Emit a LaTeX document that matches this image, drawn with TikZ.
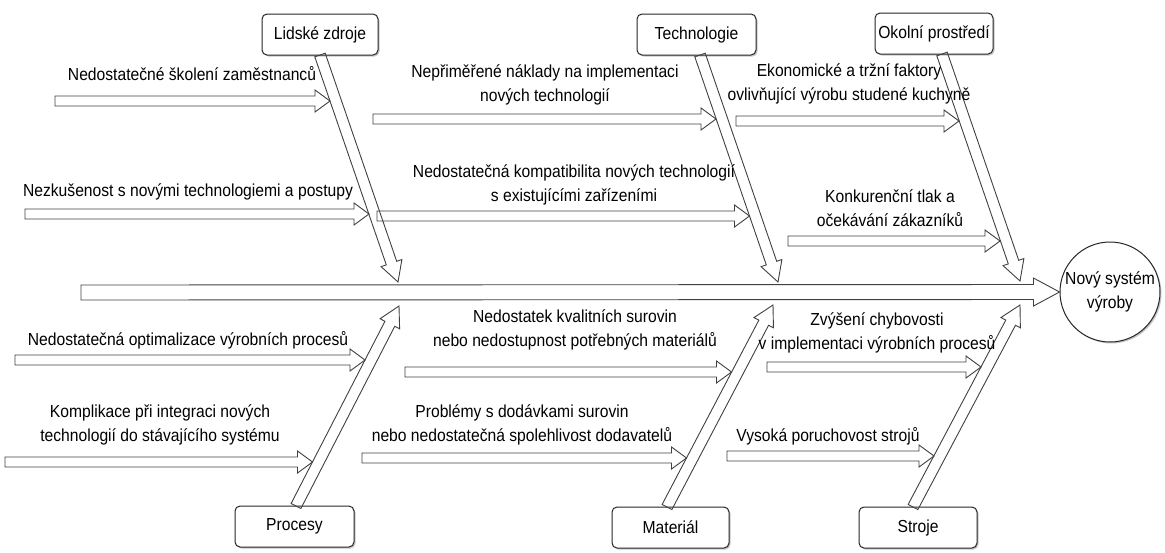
\documentclass[tikz,border=0pt]{standalone}
\usepackage{fontspec}
\setmainfont{Liberation Sans}[FakeStretch=0.9]
\usetikzlibrary{calc,shadows}

% hollow block arrow: #1 tail, #2 tip, #3 half body width, #4 half head width, #5 head length, #6 name
\newcommand\hollowarrow[6]{%
  \coordinate (#6-hb) at ($(#2)!#5!(#1)$);
  \draw[hollow]
    ($(#1)!#3!90:(#2)$) -- ($(#6-hb)!#3!90:(#2)$) -- ($(#6-hb)!#4!90:(#2)$) -- (#2)
    -- ($(#6-hb)!#4!-90:(#2)$) -- ($(#6-hb)!#3!-90:(#2)$) -- ($(#1)!#3!-90:(#2)$) -- cycle;
}
\newcommand\causearrow[3]{\hollowarrow{#1}{#2}{5pt}{11pt}{15pt}{#3}}
\newcommand\brancharrow[3]{\hollowarrow{#1}{#2}{5.5pt}{11pt}{20pt}{#3}}

\tikzset{
  hollow/.style={draw=black!75, line width=0.9pt, line join=miter},
  catbox/.style={draw=black!85, line width=1pt, rounded corners=5pt, fill=white,
    minimum height=41pt, inner sep=0pt,
    drop shadow={shadow xshift=1.5pt, shadow yshift=-1.5pt, fill=black!45, opacity=0.5}},
  effect/.style={circle, draw=black!85, line width=1pt, fill=white, minimum size=100pt,
    inner sep=0pt, align=center,
    drop shadow={shadow xshift=1.5pt, shadow yshift=-1.5pt, fill=black!45, opacity=0.5}},
  cause/.style={align=center, inner sep=0pt}
}

\begin{document}
\begin{tikzpicture}[x=1pt, y=-1pt, font=\fontsize{17.4}{24}\selectfont]
\useasboundingbox (0,0) rectangle (1165,552);

% effect and category boxes
\node[effect] (eff) at (1110,292) {Nový systém\\výroby};
\node[catbox, minimum width=116pt] (lz)   at (320,34.5)   {Lidské zdroje};
\node[catbox, minimum width=119pt] (tech) at (696.5,34.5) {Technologie};
\node[catbox, minimum width=118pt] (env)  at (934,33.5)   {Okolní prostředí};
\node[catbox, minimum width=119pt] (proc) at (294.5,526.5) {Procesy};
\node[catbox, minimum width=117pt] (mat)  at (670.5,527.5) {Materiál};
\node[catbox, minimum width=118pt] (mach) at (918,527.5)  {Stroje};

% spine
\coordinate (sp-tail) at (81,292.5);
\hollowarrow{sp-tail}{eff.west}{7.5pt}{14pt}{26pt}{sp}

% branch ends
\coordinate (lz-b)   at (320,55);   \coordinate (lz-t)   at (398,282);
\coordinate (tech-b) at (700,55);   \coordinate (tech-t) at (778,282);
\coordinate (env-b)  at (942,54);   \coordinate (env-t)  at (1020,281);
\coordinate (proc-b) at (296,506);  \coordinate (proc-t) at (399,306);
\coordinate (mat-b)  at (667,507);  \coordinate (mat-t)  at (773,305);
\coordinate (mach-b) at (913,507);  \coordinate (mach-t) at (1020,305);

\brancharrow{lz-b}{lz-t}{br1}
\brancharrow{tech-b}{tech-t}{br2}
\brancharrow{env-b}{env-t}{br3}
\brancharrow{proc-b}{proc-t}{br4}
\brancharrow{mat-b}{mat-t}{br5}
\brancharrow{mach-b}{mach-t}{br6}

% causes: tails and tips
\coordinate (c1s)  at (55,101);   \coordinate (c1e)  at (330,101);
\coordinate (c2s)  at (25,214);   \coordinate (c2e)  at (369,214);
\coordinate (c3s)  at (373,119);  \coordinate (c3e)  at (716,119);
\coordinate (c4s)  at (377,216);  \coordinate (c4e)  at (749.5,216);
\coordinate (c5s)  at (736,121);  \coordinate (c5e)  at (959,121);
\coordinate (c6s)  at (788,241);  \coordinate (c6e)  at (1000,241);
\coordinate (c7s)  at (15,360);   \coordinate (c7e)  at (365,360);
\coordinate (c8s)  at (5,462);    \coordinate (c8e)  at (312.5,462);
\coordinate (c9s)  at (405,372);  \coordinate (c9e)  at (731.5,372);
\coordinate (c10s) at (362,458);  \coordinate (c10e) at (686.5,458);
\coordinate (c11s) at (767,367);  \coordinate (c11e) at (981,367);
\coordinate (c12s) at (727,456);  \coordinate (c12e) at (934,456);

\causearrow{c1s}{c1e}{a1}
\causearrow{c2s}{c2e}{a2}
\causearrow{c3s}{c3e}{a3}
\causearrow{c4s}{c4e}{a4}
\causearrow{c5s}{c5e}{a5}
\causearrow{c6s}{c6e}{a6}
\causearrow{c7s}{c7e}{a7}
\causearrow{c8s}{c8e}{a8}
\causearrow{c9s}{c9e}{a9}
\causearrow{c10s}{c10e}{a10}
\causearrow{c11s}{c11e}{a11}
\causearrow{c12s}{c12e}{a12}

% cause labels
\node[cause] (l1)  at (192,74)    {Nedostatečné školení zaměstnanců};
\node[cause] (l2)  at (188,192)   {Nezkušenost s novými technologiemi a postupy};
\node[cause] (l3)  at (545,84.5)  {Nepřiměřené náklady na implementaci\\nových technologií};
\node[cause] (l4)  at (574,185)   {Nedostatečná kompatibilita nových technologií\\s existujícími zařízeními};
\node[cause] (l5)  at (849,84)    {Ekonomické a tržní faktory\\ovlivňující výrobu studené kuchyně};
\node[cause] (l6)  at (890,208.5) {Konkurenční tlak a\\očekávání zákazníků};
\node[cause] (l7)  at (188,340)   {Nedostatečná optimalizace výrobních procesů};
\node[cause] (l8)  at (160,425)   {Komplikace při integraci nových\\technologií do stávajícího systému};
\node[cause] (l9)  at (575,329.5) {Nedostatek kvalitních surovin\\nebo nedostupnost potřebných materiálů};
\node[cause] (l10) at (522,424.5) {Problémy s dodávkami surovin\\nebo nedostatečná spolehlivost dodavatelů};
\node[cause] (l11) at (877,333)   {Zvýšení chybovosti\\v implementaci výrobních procesů};
\node[cause] (l12) at (828,436)   {Vysoká poruchovost strojů};
\end{tikzpicture}
\end{document}
